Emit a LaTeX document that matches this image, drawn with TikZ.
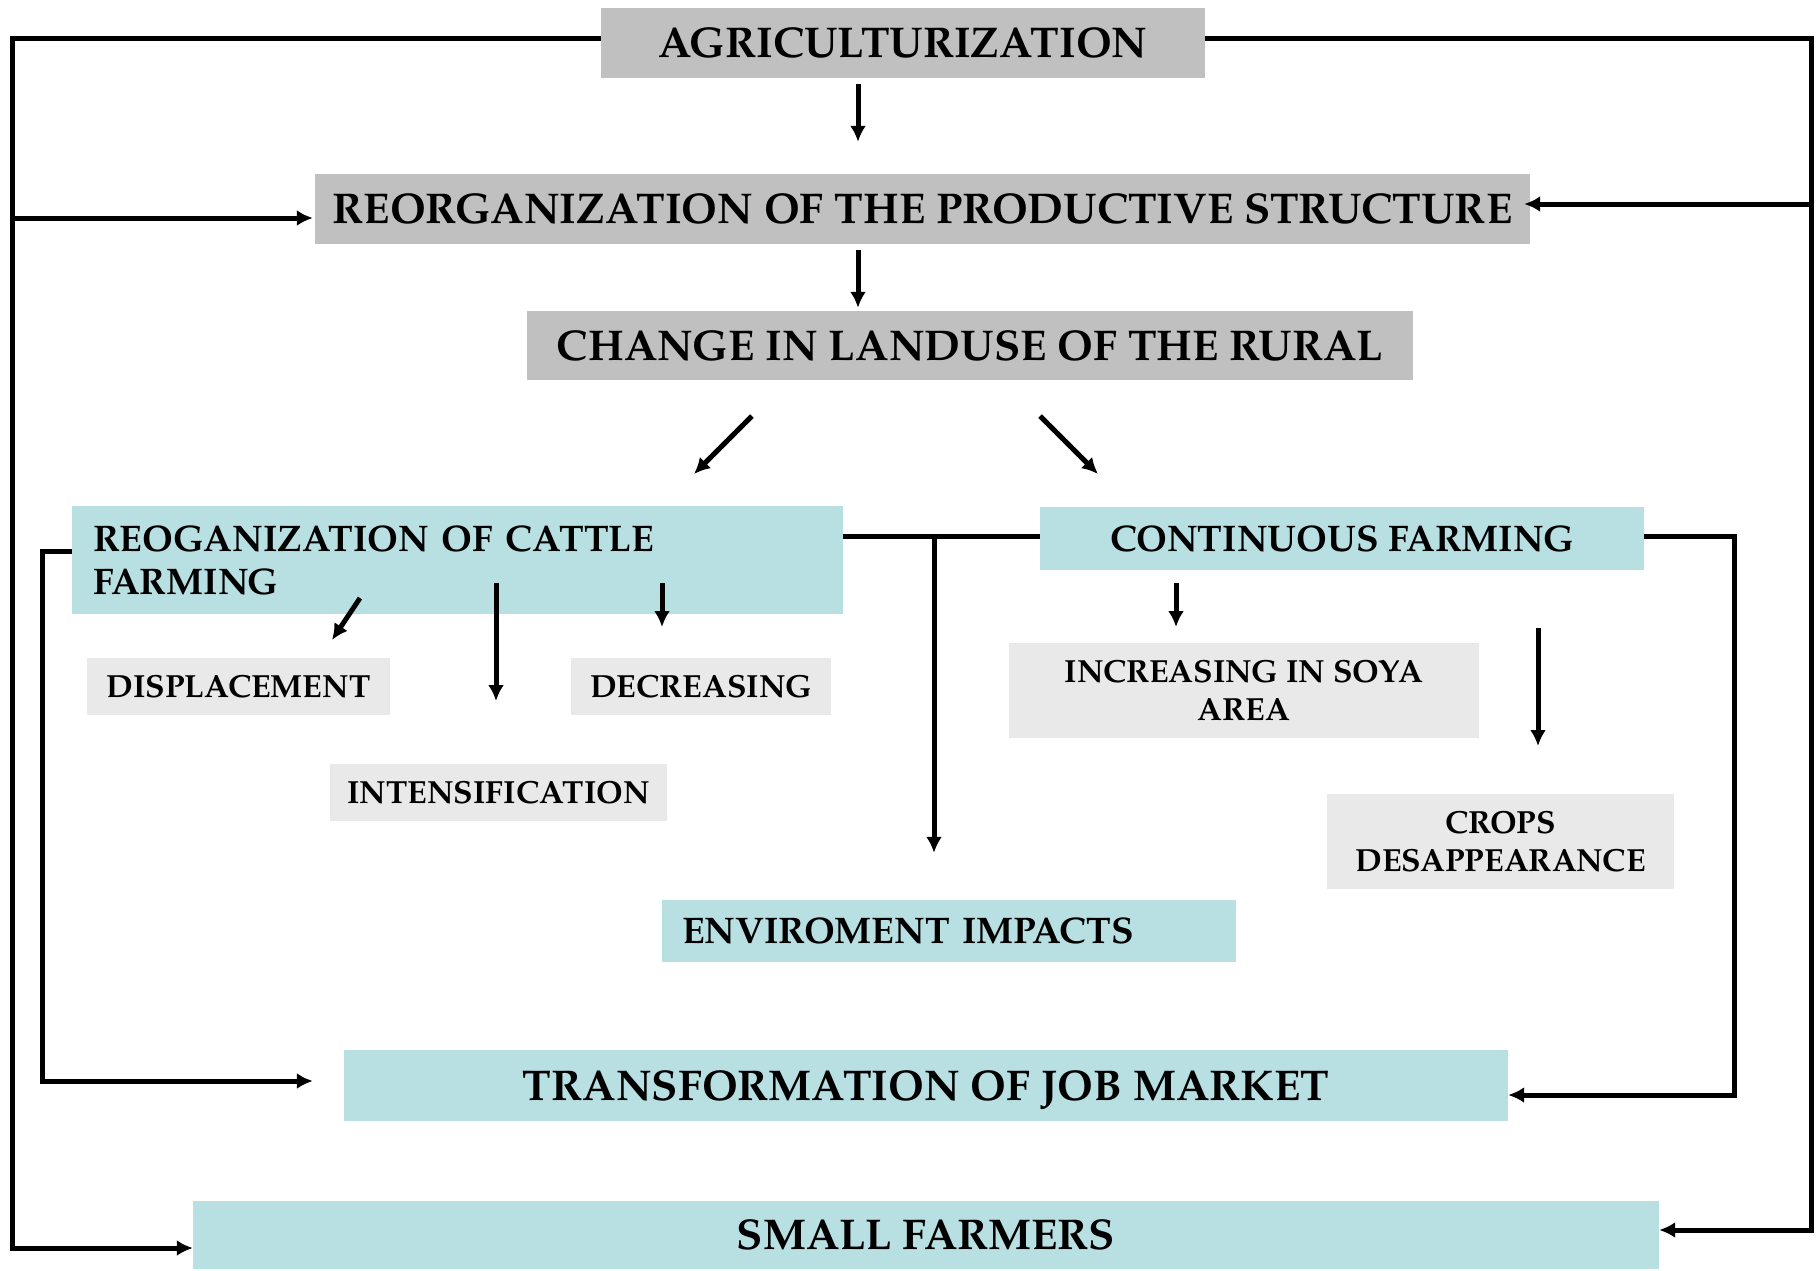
\documentclass[tikz,border=0pt]{standalone}
\usepackage{fontspec}
\setmainfont{TeX Gyre Pagella}
\usetikzlibrary{arrows.meta}

\definecolor{headgray}{RGB}{192,192,192}
\definecolor{paleteal}{RGB}{184,223,226}
\definecolor{lightgray}{RGB}{233,233,233}

\tikzset{
  headbox/.style={fill=headgray, inner sep=0pt, font=\bfseries\fontsize{43}{50}\selectfont},
  tealbox/.style={fill=paleteal, inner sep=0pt, font=\bfseries\fontsize{37}{43}\selectfont},
  bigteal/.style={fill=paleteal, inner sep=0pt, text depth=0pt, font=\bfseries\fontsize{43}{50}\selectfont},
  subbox/.style={fill=lightgray, inner sep=0pt, align=center, font=\bfseries\fontsize{32}{38}\selectfont},
  flowline/.style={line width=5pt},
  flowarrow/.style={line width=5pt, -{Latex[length=16pt,width=16pt]}}
}

\begin{document}
\begin{tikzpicture}[x=1pt, y=-1pt]
  \useasboundingbox (0,0) rectangle (1820,1270);

  % top of the chain
  \node[headbox, minimum width=604, minimum height=70] (agri) at (903,43) {AGRICULTURIZATION};
  \node[headbox, minimum width=1215, minimum height=70] (reorg) at (922.5,209) {REORGANIZATION OF THE PRODUCTIVE STRUCTURE};
  \node[headbox, minimum width=886, minimum height=69] (change) at (970,345.5) {CHANGE IN LANDUSE OF THE RURAL};

  % the two branches
  \node[tealbox, minimum height=108, text width=729, inner xsep=21, align=left] (cattle) at (457.5,560) {REOGANIZATION OF CATTLE\\FARMING};
  \node[tealbox, minimum width=604, minimum height=63] (cont) at (1342,538.5) {CONTINUOUS FARMING};

  \node[subbox, minimum width=303, minimum height=57] (displ) at (238.5,686.5) {DISPLACEMENT};
  \node[subbox, minimum width=260, minimum height=57] (decr) at (701,686.5) {DECREASING};
  \node[subbox, minimum width=337, minimum height=57] (inten) at (498.5,792.5) {INTENSIFICATION};
  \node[subbox, minimum width=470, minimum height=95] (soya) at (1244,690.5) {INCREASING IN SOYA\\AREA};
  \node[subbox, minimum width=347, minimum height=95] (crops) at (1500.5,841.5) {CROPS\\DESAPPEARANCE};

  \node[tealbox, minimum height=62, text width=534, inner xsep=20, align=left] (envir) at (949,931) {ENVIROMENT IMPACTS};

  % outcomes
  \node[bigteal, minimum width=1164, minimum height=71] (job) at (926,1085.5) {TRANSFORMATION OF JOB MARKET};
  \node[bigteal, minimum width=1466, minimum height=68] (small) at (926,1235) {SMALL FARMERS};

  % loose arrow ends
  \coordinate (ax) at (858,0);
  \coordinate (dl1) at (752,416);  \coordinate (dl2) at (694,474);
  \coordinate (dr1) at (1040,416); \coordinate (dr2) at (1098,474);
  \coordinate (c1) at (360,598);   \coordinate (c2) at (332,640);
  \coordinate (c3) at (496,583);   \coordinate (c4) at (496,701);
  \coordinate (c5) at (662,583);   \coordinate (c6) at (662,627);
  \coordinate (s1) at (1176,583);  \coordinate (s2) at (1176,627);
  \coordinate (p1) at (1538,628);  \coordinate (p2) at (1538,746);
  \coordinate (split) at (934,536);

  \draw[flowarrow, shorten <=6pt, shorten >=32pt] (agri.south -| ax) -- (reorg.north -| ax);
  \draw[flowarrow, shorten <=6pt, shorten >=3pt] (reorg.south -| ax) -- (change.north -| ax);
  \draw[flowarrow] (dl1) -- (dl2);
  \draw[flowarrow] (dr1) -- (dr2);
  \draw[flowarrow] (c1) -- (c2);
  \draw[flowarrow] (c3) -- (c4);
  \draw[flowarrow] (c5) -- (c6);
  \draw[flowarrow] (s1) -- (s2);
  \draw[flowarrow] (p1) -- (p2);

  % link between the branches and the drop to the impacts
  \draw[flowline] ([yshift=24pt]cattle.east) -- ([yshift=2.5pt]cont.west);
  \draw[flowarrow, shorten >=47pt] (split) -- (split |- envir.north);

  % feedback loops
  \draw[flowarrow, shorten >=31pt] ([yshift=9pt]cattle.west) -| (42,1081) -- ([yshift=4.5pt]job.west);
  \draw[flowarrow] ([yshift=2.5pt]cont.east) -| (1734,1095) -- ([yshift=-9.5pt]job.east);
  \draw[flowarrow] ([yshift=5pt]agri.west) -| (12,1248) -- ([yshift=-13pt]small.west);
  \draw[flowarrow, shorten >=2pt] (12,218) -- ([yshift=-9pt]reorg.west);
  \draw[flowarrow] ([yshift=5pt]agri.east) -| (1811,1230) -- ([yshift=5pt]small.east);
  \draw[flowarrow, shorten >=-6pt] (1811,204) -- ([yshift=5pt]reorg.east);
\end{tikzpicture}
\end{document}
